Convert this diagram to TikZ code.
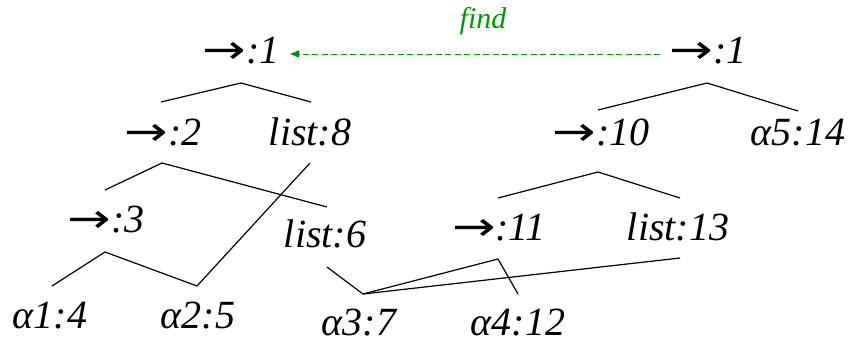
\documentclass[tikz,border=0pt]{standalone}
\usepackage{fontspec}
\usepackage{graphicx}
\setmainfont{Liberation Serif}
\newfontfamily\arrfont{DejaVu Sans}
\usetikzlibrary{arrows.meta}
\definecolor{findgreen}{RGB}{0,150,0}
\newcommand{\ar}{{\arrfont\upshape\scalebox{1.3}[1]{→}}}
\begin{document}
\begin{tikzpicture}[x=1pt,y=-1pt,
  lbl/.style={inner sep=0pt,anchor=base,font=\itshape\fontsize{40}{40}\selectfont},
  edge/.style={line width=1.2pt,line join=miter},
  findarrow/.style={draw=findgreen,line width=1pt,dash pattern=on 6pt off 3.5pt,-{Triangle[length=9pt,width=7pt]}}]
\useasboundingbox (0,0) rectangle (857,343);
% nodes
\node[lbl] (r1) at (241,63) {\ar:1};
\node[lbl] (r1b) at (708,63) {\ar:1};
\node[inner sep=0pt,font=\itshape\fontsize{30}{30}\selectfont,text=findgreen] (find) at (483,21) {find};
\node[lbl] (n2) at (163,145) {\ar:2};
\node[lbl] (n8) at (310,145) {list:8};
\node[lbl] (n10) at (601,145) {\ar:10};
\node[lbl] (n14) at (798,145) {α5:14};
\node[lbl] (n3) at (106,232) {\ar:3};
\node[lbl] (n6) at (325,247) {list:6};
\node[lbl] (n11) at (499,240) {\ar:11};
\node[lbl] (n13) at (678,240) {list:13};
\node[lbl] (a1) at (50,328) {α1:4};
\node[lbl] (a2) at (198,328) {α2:5};
\node[lbl] (a3) at (359,335) {α3:7};
\node[lbl] (a4) at (518,335) {α4:12};
% connector points
\coordinate (r1c) at (241,83);
\coordinate (n2t) at (161,102);
\coordinate (n8t) at (311,102);
\coordinate (r1bc) at (707,83);
\coordinate (n10t) at (598,110);
\coordinate (n14t) at (798,111);
\coordinate (n2c) at (162,163);
\coordinate (n3t) at (105,190);
\coordinate (n6t) at (327,207);
\coordinate (n8c) at (310,163);
\coordinate (a2t) at (197,286);
\coordinate (n3c) at (105,252);
\coordinate (a1t) at (52,286);
\coordinate (n10c) at (598,172);
\coordinate (n11t) at (498,198);
\coordinate (n13t) at (680,198);
\coordinate (n6c) at (327,267);
\coordinate (a3t) at (363,294);
\coordinate (n11c) at (498,259);
\coordinate (a4t) at (518,294);
\coordinate (n13c) at (680,258);
\coordinate (fs) at (660,54);
\coordinate (fe) at (290,54);
% connectors
\draw[edge] (n2t) -- (r1c) -- (n8t);
\draw[edge] (n10t) -- (r1bc) -- (n14t);
\draw[edge] (n3t) -- (n2c) -- (n6t);
\draw[edge] (n8c) -- (a2t);
\draw[edge] (a1t) -- (n3c) -- (a2t);
\draw[edge] (n11t) -- (n10c) -- (n13t);
\draw[edge] (n6c) -- (a3t);
\draw[edge] (a3t) -- (n11c) -- (a4t);
\draw[edge] (a3t) -- (n13c);
\draw[findarrow] (fs) -- (fe);
\end{tikzpicture}
\end{document}
